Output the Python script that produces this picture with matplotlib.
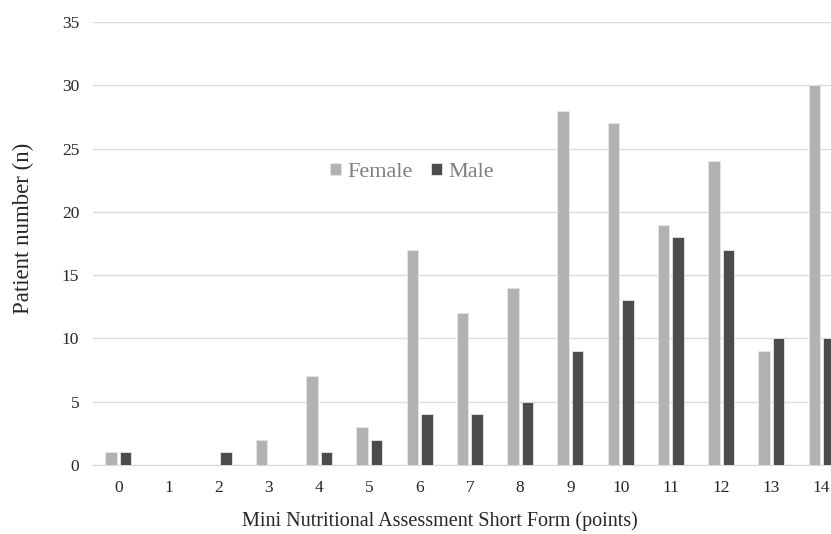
import matplotlib.pyplot as plt
import numpy as np

# MNA-SF score categories and counts per sex
scores = list(range(15))
female = [1, 0, 0, 2, 7, 3, 17, 12, 14, 28, 27, 19, 24, 9, 30]
male = [1, 0, 1, 0, 1, 2, 4, 4, 5, 9, 13, 18, 17, 10, 10]

plt.rcParams['font.family'] = ['Liberation Serif', 'DejaVu Serif']

fig = plt.figure(figsize=(8.31, 5.34), dpi=100)
ax = fig.add_axes([0.112, 0.129, 0.907, 0.83])

x = np.arange(len(scores))
w = 0.23
ax.bar(x - 0.145, female, w, color='#b1b2b4', edgecolor='#e6e6e6', linewidth=0.6, label='Female', zorder=3)
ax.bar(x + 0.145, male, w, color='#4b4c4e', edgecolor='#e6e6e6', linewidth=0.6, label='Male', zorder=3)

ax.set_xlim(-0.5, 14.5)
ax.set_ylim(0, 35)
ax.set_yticks(range(0, 36, 5))
ax.set_xticks(x)
ax.set_xticklabels([str(s) for s in scores])
ax.grid(axis='y', color='#dcdcdc', linewidth=1, zorder=0)
for s in ['top', 'right', 'left']:
    ax.spines[s].set_visible(False)
ax.spines['bottom'].set_color('#d9d9d9')
ax.tick_params(length=0, labelsize=12.5, colors='#262626')
ax.tick_params(axis='x', pad=11)
ax.tick_params(axis='y', pad=10)

ax.set_xlabel('Mini Nutritional Assessment Short Form (points)', fontsize=14.5, color='#262626')
ax.set_ylabel('Patient number (n)', fontsize=16.5, color='#262626')
# label positions in axes fraction
ax.xaxis.set_label_coords(0.46, -0.105)
ax.yaxis.set_label_coords(-0.078, 0.535)

leg = ax.legend(loc='center', bbox_to_anchor=(0.423, 0.661), ncol=2, frameon=False,
                fontsize=16, handlelength=0.5, handleheight=0.5, handletextpad=0.3,
                columnspacing=0.8, borderpad=0)
for t in leg.get_texts():
    t.set_color('#7f7f7f')

fig.savefig('out.png', dpi=100)
